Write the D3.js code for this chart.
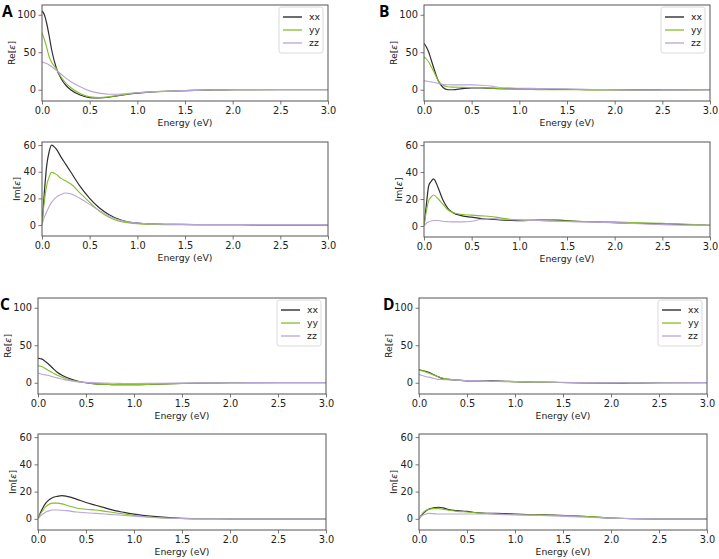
<!DOCTYPE html>
<html><head><meta charset="utf-8">
<script src="https://cdn.jsdelivr.net/npm/d3@7"></script>
<style>
body{margin:0;background:#fff;}
svg{display:block;font-family:"DejaVu Sans",sans-serif;}
</style></head>
<body><svg id="c" width="719" height="559"></svg>
<script>
// Shared energy grid (eV)
const energy = [0, 0.025, 0.05, 0.075, 0.1, 0.15, 0.2, 0.25, 0.3, 0.4, 0.5, 0.6, 0.7, 0.8, 0.9, 1.0, 1.2, 1.4, 1.6, 1.8, 2.0, 2.2, 2.5, 3.0];
const components = ["xx", "yy", "zz"];
const panelLabels = ["A", "B", "C", "D"];
const xTicks = [0, 0.5, 1.0, 1.5, 2.0, 2.5, 3.0];
const reTicks = [0, 50, 100];
const imTicks = [0, 20, 40, 60];

// Panel A
const A_re_xx = [105, 100, 88, 72, 54, 29, 15, 6, 0, -7, -10.5, -11, -10, -8, -6, -4.5, -2.5, -1.5, -0.8, -0.3, 0, 0.2, 0.3, 0.3];
const A_re_yy = [76, 67, 56, 44, 37, 28, 17, 9, 3, -5, -9.5, -10.5, -9.5, -7.5, -5.5, -4, -2.5, -1.5, -0.8, -0.3, 0, 0.2, 0.3, 0.3];
const A_re_zz = [37, 36, 35, 33, 31, 26, 21, 15.5, 11, 4, -1.5, -4.5, -6, -6, -5, -4, -2.5, -1.5, -0.8, -0.3, 0, 0.2, 0.3, 0.3];
const A_im_xx = [0, 25, 45, 55, 60, 57, 51, 45.5, 40, 29, 20, 13, 8, 4.5, 2.5, 1.5, 0.8, 0.5, 0.4, 0.3, 0.3, 0.2, 0.2, 0.2];
const A_im_yy = [0, 18, 30, 36, 39.5, 38, 35, 33, 31, 24, 17, 10.5, 6, 3, 1.8, 1, 0.5, 0.3, 0.3, 0.2, 0.2, 0.2, 0.2, 0.2];
const A_im_zz = [0, 6, 10, 14, 17, 21, 23, 24, 23.5, 20, 15.5, 11, 7, 4, 2.5, 1.5, 0.8, 0.5, 0.4, 0.3, 0.3, 0.3, 0.3, 0.3];
// Panel B
const B_re_xx = [62, 57, 50, 40, 30, 12, 3, 0, 0, 1.5, 2.5, 2.5, 2, 1.5, 1.3, 1.2, 0.8, 0.5, 0.3, 0.1, 0, -0.2, -0.3, 0];
const B_re_yy = [44, 41, 37, 31, 25, 12, 6, 4, 3.5, 3.2, 3, 2.8, 2.5, 1.5, 0.8, 0.5, 0.2, 0, 0, -0.2, -0.3, -0.3, -0.3, 0];
const B_re_zz = [12, 11.5, 11, 10.5, 10, 8.5, 7, 6.7, 6.5, 6.5, 6.5, 6, 5, 3, 2.5, 2, 1.7, 1.3, 0.8, 0.3, 0, -0.3, -0.5, 0];
const B_im_xx = [0, 16, 30, 33, 35, 28, 19, 13, 10, 7.5, 6.5, 5.5, 5, 4.5, 4.2, 4, 4.3, 4.3, 3.5, 3, 2.5, 2, 1.5, 0.5];
const B_im_yy = [0, 11, 19, 21.5, 23, 20, 16, 12, 10, 8.5, 8, 7.5, 7, 6, 5, 4.5, 4, 3.7, 3.5, 3.2, 3, 2.5, 2, 0.5];
const B_im_zz = [0, 2, 3, 3.7, 4, 4, 3.5, 3.2, 3, 3, 3.5, 5, 5.5, 5, 4.7, 4.5, 4, 3.5, 3, 2.7, 2.5, 1.8, 1, 0.5];
// Panel C
const C_re_xx = [33, 32, 31, 28.5, 26, 20, 14, 10, 7, 2.5, 0, -1.5, -2, -2.5, -2.5, -2.5, -2, -1.3, -0.7, -0.3, 0, 0.2, 0.3, 0.3];
const C_re_yy = [23, 22, 21, 19, 17, 13.5, 10, 7.5, 5, 2, 0, -1.5, -2, -2.5, -2.5, -2.5, -2, -1.3, -0.7, -0.3, 0, 0.2, 0.3, 0.3];
const C_re_zz = [13, 12, 11, 10.5, 10, 8, 6.5, 5, 3.5, 1.5, 0.5, 0, -0.5, -0.7, -0.9, -1, -0.8, -0.5, -0.3, -0.1, 0, 0.2, 0.3, 0.3];
const C_im_xx = [0, 4.5, 8, 11, 13, 15.5, 16.5, 17, 16.5, 14.5, 12, 10, 8, 6, 4.7, 3.5, 1.8, 0.7, 0.2, 0.1, 0, 0, 0, 0];
const C_im_yy = [0, 3.5, 6, 8.5, 10, 11.5, 11.5, 11, 10, 8, 7, 6.5, 5.5, 4.5, 3.5, 2.5, 1.2, 0.4, 0.1, 0, 0, 0, 0, 0];
const C_im_zz = [0, 2, 3.5, 4.7, 5.5, 6.5, 6.5, 6.3, 6, 5, 4.5, 4, 3.5, 3, 2.5, 2, 1, 0.4, 0.1, 0, 0, 0, 0, 0];
// Panel D
const D_re_xx = [17, 16.5, 16, 15, 14, 11, 8, 5.5, 4.5, 3.5, 2.5, 2.5, 3, 2.5, 2, 1.5, 1, 0.5, 0, -0.3, -0.5, -0.3, 0, 0.3];
const D_re_yy = [17, 16, 15.5, 14, 13, 10.5, 8, 6, 5, 3.5, 2.5, 2.2, 2, 1.7, 1.4, 1.2, 0.8, 0.4, 0, -0.3, -0.5, -0.3, 0, 0.3];
const D_re_zz = [11, 10, 9, 8, 7.5, 6, 4.5, 4.2, 4, 3.5, 3, 2.8, 2.5, 2.2, 1.8, 1.5, 1.2, 0.8, 0.4, 0.1, 0, 0, 0.1, 0.3];
const D_im_xx = [0, 2.5, 4.5, 6, 7, 8, 8.5, 8, 7, 6, 5.5, 4.5, 4, 4, 3.8, 3.5, 3, 2.7, 2.2, 1.5, 0.5, 0.2, 0, 0];
const D_im_yy = [0, 3, 5, 6.3, 7, 7.5, 7.5, 7, 6.5, 5.5, 5, 4.5, 4, 3.7, 3.3, 3, 2.8, 2.6, 2.2, 1.5, 0.5, 0.2, 0, 0];
const D_im_zz = [0, 2, 3, 3.5, 4, 3.8, 3.5, 3.5, 3.5, 3.5, 3.5, 3.5, 3.5, 3.3, 3.1, 3, 2.6, 2.2, 1.6, 1, 0.5, 0.2, 0, 0];

const seriesByPanel = {
  A: {re: [A_re_xx, A_re_yy, A_re_zz], im: [A_im_xx, A_im_yy, A_im_zz]},
  B: {re: [B_re_xx, B_re_yy, B_re_zz], im: [B_im_xx, B_im_yy, B_im_zz]},
  C: {re: [C_re_xx, C_re_yy, C_re_zz], im: [C_im_xx, C_im_yy, C_im_zz]},
  D: {re: [D_re_xx, D_re_yy, D_re_zz], im: [D_im_xx, D_im_yy, D_im_zz]}
};

const colors = {xx: "#2f2f2f", yy: "#85bd2c", zz: "#b8a5d8"};
const widths = {xx: 1.2, yy: 1.1, zz: 1.1};

// layout: axes boxes [left, right, top, bottom]
const layout = {
  A: {re: [42, 328, 5, 101], im: [42, 328, 142, 236], letter: [2, 16.5]},
  B: {re: [424, 710, 5, 101], im: [424, 710, 142, 237], letter: [379, 16.5]},
  C: {re: [38, 326, 298, 394], im: [38, 326, 434, 530], letter: [0, 309.5]},
  D: {re: [419, 707, 298, 394], im: [419, 707, 434, 530], letter: [383, 309.5]}
};

const svg = d3.select("#c");
const axisColor = "#555";
const textColor = "#222";

function drawAxes(box, kind, data, withLegend) {
  const [l, r, t, b] = box;
  const x = d3.scaleLinear().domain([0, 3]).range([l, r]);
  const y = kind === "re" ? d3.scaleLinear().domain([-15, 113]).range([b, t])
                          : d3.scaleLinear().domain([-8.2, 62.3]).range([b, t]);
  const g = svg.append("g");
  const clipId = "clip" + Math.round(l) + "_" + Math.round(t);
  svg.append("clipPath").attr("id", clipId).append("rect")
    .attr("x", l).attr("y", t).attr("width", r - l).attr("height", b - t);

  const line = d3.line().x((d, i) => x(energy[i])).y(d => y(d)).curve(d3.curveMonotoneX);
  components.forEach((c, k) => {
    g.append("path").attr("clip-path", `url(#${clipId})`)
      .datum(data[k]).attr("d", line)
      .attr("fill", "none").attr("stroke", colors[c]).attr("stroke-width", widths[c])
      .attr("stroke-linejoin", "round");
  });

  g.append("rect").attr("x", l).attr("y", t).attr("width", r - l).attr("height", b - t)
    .attr("fill", "none").attr("stroke", axisColor).attr("stroke-width", 1);

  const xa = g.append("g").attr("transform", `translate(0,${b})`)
    .call(d3.axisBottom(x).tickValues(xTicks).tickFormat(d3.format(".1f")).tickSize(3.5).tickPadding(2.5));
  const ya = g.append("g").attr("transform", `translate(${l},0)`)
    .call(d3.axisLeft(y).tickValues(kind === "re" ? reTicks : imTicks).tickFormat(d3.format("d")).tickSize(3.5).tickPadding(2.5));
  [xa, ya].forEach(a => {
    a.select(".domain").remove();
    a.selectAll(".tick line").attr("stroke", axisColor).attr("stroke-width", 0.8);
    a.selectAll(".tick text").attr("fill", textColor).attr("font-size", 9.8).attr("font-family", "DejaVu Sans");
  });

  g.append("text").attr("x", (l + r) / 2).attr("y", b + 24.5)
    .attr("text-anchor", "middle").attr("font-size", 9.3).attr("fill", textColor)
    .text("Energy (eV)");

  const lab = g.append("text")
    .attr("transform", `translate(${l - (kind === "re" ? 30.5 : 25.5)},${(t + b) / 2}) rotate(-90)`)
    .attr("text-anchor", "middle").attr("dy", "0.35em").attr("font-size", 9.3).attr("fill", textColor);
  lab.append("tspan").text(kind === "re" ? "Re[" : "Im[");
  lab.append("tspan").attr("font-style", "italic").text("ε");
  lab.append("tspan").text("]");

  if (withLegend) {
    const lw = 44, lh = 46;
    const lx = r - 5 - lw, ly = t + 2;
    g.append("rect").attr("x", lx).attr("y", ly).attr("width", lw).attr("height", lh)
      .attr("rx", 2.5).attr("fill", "#fff").attr("fill-opacity", 0.8)
      .attr("stroke", "#d0d0d0").attr("stroke-width", 0.8);
    components.forEach((c, k) => {
      const yy = ly + 10 + k * 13;
      g.append("line").attr("x1", lx + 4).attr("x2", lx + 23).attr("y1", yy).attr("y2", yy)
        .attr("stroke", colors[c]).attr("stroke-width", widths[c] + 0.2);
      g.append("text").attr("x", lx + 30).attr("y", yy).attr("dy", "0.35em")
        .attr("font-size", 9.3).attr("fill", textColor).text(c);
    });
  }
}

panelLabels.forEach(p => {
  const L = layout[p];
  drawAxes(L.re, "re", seriesByPanel[p].re, true);
  drawAxes(L.im, "im", seriesByPanel[p].im, false);
  svg.append("text").attr("x", L.letter[0]).attr("y", L.letter[1])
    .attr("font-family", "'Open Sans', 'Liberation Sans', sans-serif").attr("font-weight", "bold")
    .attr("font-size", 15.5).attr("fill", "#000").text(p);
});
</script>
</body></html>
